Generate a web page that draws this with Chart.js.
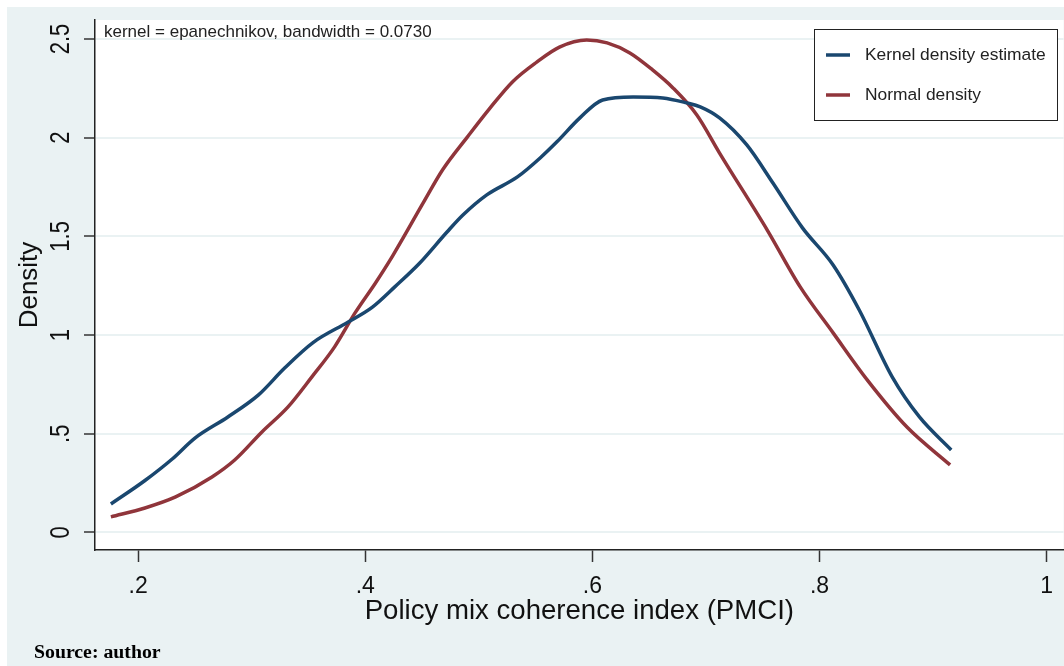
<!DOCTYPE html>
<html>
<head>
<meta charset="utf-8">
<script src="https://cdn.jsdelivr.net/npm/chart.js@4/dist/chart.umd.min.js"></script>
<style>
  html, body { margin: 0; padding: 0; background: #fff; }
  #wrap { width: 1064px; height: 666px; }
</style>
</head>
<body>
<div id="wrap"><canvas id="c" width="1064" height="666"></canvas></div>
<script>
// kernel density estimate
const kdeX = [0.176, 0.206, 0.230, 0.250, 0.279, 0.306, 0.329, 0.354, 0.385, 0.406, 0.426, 0.448, 0.472,
    0.486, 0.507, 0.534, 0.554, 0.569, 0.589, 0.609, 0.636, 0.662, 0.683, 0.695, 0.712, 0.736, 0.759,
    0.785, 0.812, 0.835, 0.864, 0.888, 0.916];
const kdeY = [0.144, 0.263, 0.372, 0.478, 0.585, 0.697, 0.833, 0.962, 1.066, 1.140, 1.244, 1.365, 1.522,
    1.608, 1.710, 1.801, 1.897, 1.980, 2.100, 2.191, 2.206, 2.201, 2.176, 2.156, 2.100, 1.963, 1.770,
    1.543, 1.355, 1.127, 0.788, 0.585, 0.418];

// normal density
const normX = [0.176, 0.206, 0.233, 0.265, 0.285, 0.309, 0.332, 0.353, 0.373, 0.391, 0.409, 0.424,
    0.451, 0.468, 0.490, 0.510, 0.530, 0.551, 0.571, 0.595, 0.613, 0.633, 0.653, 0.671, 0.692, 0.712,
    0.754, 0.783, 0.812, 0.842, 0.877, 0.915];
const normY = [0.079, 0.124, 0.180, 0.281, 0.367, 0.509, 0.636, 0.788, 0.940, 1.112, 1.264, 1.400,
    1.669, 1.836, 2.004, 2.151, 2.285, 2.383, 2.459, 2.495, 2.480, 2.429, 2.343, 2.252, 2.115, 1.922,
    1.532, 1.244, 1.011, 0.773, 0.534, 0.342];

const xTicks = [0.2, 0.4, 0.6, 0.8, 1];
const xTickLabels = [".2", ".4", ".6", ".8", "1"];
const yTicks = [0, 0.5, 1, 1.5, 2, 2.5];
const yTickLabels = ["0", ".5", "1", "1.5", "2", "2.5"];

const seriesNames = ["Kernel density estimate", "Normal density"];
const noteText = "kernel = epanechnikov, bandwidth = 0.0730";
const sourceText = "Source: author";

const BLUE = "#1a476f";
const RED = "#90353b";
const PANEL = "#eaf2f3";
const INK = "#111";

function pairs(xs, ys) {
    return xs.map((x, i) => ({ x, y: ys[i] }));
}

// backdrop: white margin, grey-blue panel, white plot region
const backdrop = {
    id: "backdrop",
    beforeDraw(chart) {
        const { ctx, chartArea: a, width, height } = chart;
        ctx.save();
        ctx.fillStyle = "#fff";
        ctx.fillRect(0, 0, width, height);
        ctx.fillStyle = PANEL;
        ctx.fillRect(7, 7, width - 7, height - 7);
        ctx.fillStyle = "#fff";
        ctx.fillRect(a.left, a.top, a.right - a.left, a.bottom - a.top);
        ctx.restore();
    }
};

// rotated y tick labels, the note, the boxed legend and the source line
const extras = {
    id: "extras",
    afterDraw(chart) {
        const { ctx } = chart;
        const ys = chart.scales.y;
        ctx.save();
        ctx.fillStyle = INK;
        ctx.font = "22px Arial, 'Liberation Sans', sans-serif";
        ctx.textAlign = "center";
        ctx.textBaseline = "middle";
        yTicks.forEach((v, i) => {
            const py = ys.getPixelForValue(v);
            ctx.save();
            ctx.translate(61, py);
            ctx.scale(1.25, 1);
            ctx.rotate(-Math.PI / 2);
            ctx.fillText(yTickLabels[i], 0, 0);
            ctx.restore();
        });

        ctx.textAlign = "left";
        ctx.font = "17px Arial, 'Liberation Sans', sans-serif";
        ctx.fillStyle = "#222";
        ctx.fillText(noteText, 104, 32);

        // legend
        const bx = 814, by = 29, bw = 243, bh = 91;
        ctx.fillStyle = "#fff";
        ctx.fillRect(bx, by, bw, bh);
        ctx.strokeStyle = "#222";
        ctx.lineWidth = 1;
        ctx.strokeRect(bx + 0.5, by + 0.5, bw, bh);
        chart.data.datasets.forEach((ds, i) => {
            const ly = 55 + i * 40;
            ctx.strokeStyle = ds.borderColor;
            ctx.lineWidth = 3.5;
            ctx.beginPath();
            ctx.moveTo(826, ly);
            ctx.lineTo(850, ly);
            ctx.stroke();
            ctx.fillStyle = "#222";
            ctx.font = "17.4px Arial, 'Liberation Sans', sans-serif";
            ctx.fillText(ds.label, 865, ly);
        });

        ctx.fillStyle = "#000";
        ctx.font = "bold 19.8px 'Times New Roman', 'Liberation Serif', serif";
        ctx.textBaseline = "alphabetic";
        ctx.fillText(sourceText, 34, 658);
        ctx.restore();
    }
};

new Chart(document.getElementById("c"), {
    type: "line",
    data: {
        datasets: [
            {
                label: seriesNames[0],
                data: pairs(kdeX, kdeY),
                borderColor: BLUE,
                borderWidth: 3.5,
                pointRadius: 0,
                cubicInterpolationMode: "monotone",
                fill: false
            },
            {
                label: seriesNames[1],
                data: pairs(normX, normY),
                borderColor: RED,
                borderWidth: 3.5,
                pointRadius: 0,
                cubicInterpolationMode: "monotone",
                fill: false
            }
        ]
    },
    options: {
        responsive: false,
        animation: false,
        layout: { padding: { top: 20, right: 0, bottom: 0, left: 0 } },
        plugins: {
            legend: { display: false },
            tooltip: { enabled: false }
        },
        scales: {
            x: {
                type: "linear",
                min: 0.162,
                max: 1.015,
                afterBuildTicks: s => { s.ticks = xTicks.map(v => ({ value: v })); },
                afterFit: s => { s.height = 116; },
                ticks: {
                    color: INK,
                    padding: 11,
                    maxRotation: 0,
                    font: { family: "Arial, 'Liberation Sans', sans-serif", size: 23 },
                    callback: v => xTickLabels[xTicks.indexOf(v)] ?? ""
                },
                grid: {
                    drawOnChartArea: false,
                    drawTicks: true,
                    tickLength: 12,
                    tickColor: "#333",
                    tickWidth: 1.5
                },
                border: { color: "#222", width: 1.5 },
                title: {
                    display: true,
                    text: "Policy mix coherence index (PMCI)",
                    color: INK,
                    font: { family: "Arial, 'Liberation Sans', sans-serif", size: 27.6 },
                    padding: { top: 0, bottom: 38 }
                }
            },
            y: {
                min: -0.089,
                max: 2.596,
                afterBuildTicks: s => { s.ticks = yTicks.map(v => ({ value: v })); },
                afterFit: s => { s.width = 95; },
                ticks: { display: false },
                grid: {
                    color: PANEL,
                    lineWidth: 2,
                    drawTicks: true,
                    tickLength: 11,
                    tickColor: "#333",
                    tickWidth: 1.5
                },
                border: { color: "#222", width: 1.5 },
                title: {
                    display: true,
                    text: "Density",
                    color: INK,
                    font: { family: "Arial, 'Liberation Sans', sans-serif", size: 26 },
                    padding: { top: 14, bottom: 0 }
                }
            }
        }
    },
    plugins: [backdrop, extras]
});
</script>
</body>
</html>
